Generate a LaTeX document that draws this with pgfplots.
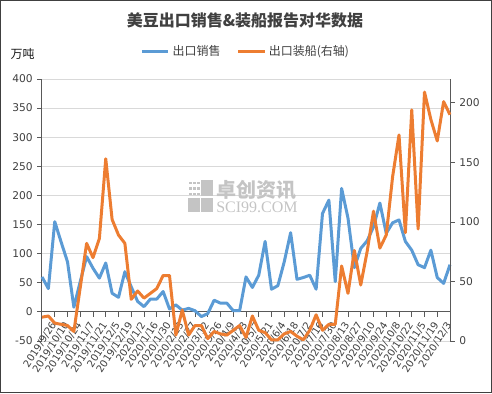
\documentclass[border=0pt]{standalone}
\usepackage{fontspec}
\setmainfont{DejaVu Sans}
\newfontfamily\cjk{Noto Sans CJK SC}
\newfontfamily\wmserif{Liberation Serif}
\usepackage{pgfplots}
\pgfplotsset{compat=1.18}
\usepackage{pgfplotstable}
\definecolor{sblue}{HTML}{5B9BD5}
\definecolor{sorange}{HTML}{ED7D31}
\definecolor{gridc}{HTML}{D9D9D9}
\definecolor{axc}{HTML}{595959}
\definecolor{txt}{HTML}{404040}
\definecolor{wm}{HTML}{C4C4C4}

\pgfplotstableread{
i v
0 60
1 40
2 155
3 120
4 86
5 8
6 52
7 95
8 75
9 58
10 84
11 32
12 25
13 69
14 43
15 18
16 9
17 22
18 22
19 35
20 5
21 12
22 3
23 6
24 2
25 -8
26 -3
27 20
28 15
29 15
30 2
31 2
32 60
33 42
34 63
35 121
36 39
37 45
38 86
39 136
40 56
41 59
42 63
43 39
44 169
45 192
46 52
47 212
48 161
49 76
50 109
51 122
52 146
53 187
54 135
55 153
56 158
57 121
58 106
59 81
60 76
61 106
62 59
63 49
64 81
}\salesdata

\pgfplotstableread{
i v
0 20
1 21
2 15
3 14
4 13
5 8
6 45
7 82
8 70
9 86
10 153
11 102
12 89
13 82
14 35
15 42
16 36
17 40
18 44
19 55
20 55
21 5
22 26
23 5
24 13
25 13
26 2
27 8
28 6
29 5
30 9
31 13
32 3
33 21
34 9
35 7
36 1
37 1
38 6
39 8
40 4
41 1
42 9
43 22
44 9
45 14
46 14
47 63
48 40
49 76
50 47
51 75
52 109
53 78
54 89
55 138
56 173
57 91
58 194
59 94
60 209
61 186
62 168
63 201
64 190
}\shipdata

\begin{document}
\begin{tikzpicture}
\useasboundingbox (-31.5pt,-39pt) rectangle (337.5pt,255.75pt);
\begin{axis}[
  scale only axis, width=306pt, height=196.5pt,
  at={(0,0)}, anchor=south west,
  xmin=0, xmax=64, ymin=-50, ymax=400,
  enlargelimits=false, clip=false,
  axis x line*=middle, axis y line*=left,
  axis line style={axc, line width=0.75pt},
  tick style={axc, line width=0.6pt},
  major tick length=3.5pt, tick align=outside,
  ytick={-50,0,50,...,400},
  ymajorgrids, grid style={gridc, line width=0.6pt},
  xtick={0,2,...,64},
  xticklabels={2019/9/12,2019/9/26,2019/10/10,2019/10/24,2019/11/7,2019/11/21,2019/12/5,2019/12/19,2020/1/2,2020/1/16,2020/1/30,2020/2/13,2020/2/27,2020/3/12,2020/3/26,2020/4/9,2020/4/23,2020/5/7,2020/5/21,2020/6/4,2020/6/18,2020/7/2,2020/7/16,2020/7/30,2020/8/13,2020/8/27,2020/9/10,2020/9/24,2020/10/8,2020/10/22,2020/11/5,2020/11/19,2020/12/3},
  xticklabel style={font=\fontsize{7.5}{8}\selectfont, rotate=57, anchor=east, text=txt, inner sep=1pt},
  xticklabel shift=4pt,
  yticklabel style={font=\fontsize{8}{9}\selectfont, text=txt},
  /pgf/number format/assume math mode=true,
]
\addplot[sblue, line width=2.25pt, line join=round] table[x=i,y=v]{\salesdata};
\end{axis}
\begin{axis}[
  scale only axis, width=306pt, height=196.5pt,
  at={(0,0)}, anchor=south west,
  xmin=0, xmax=64, ymin=0, ymax=220,
  enlargelimits=false, clip=false,
  axis x line=none, axis y line*=right,
  axis line style={axc, line width=0.75pt},
  tick style={axc, line width=0.6pt},
  major tick length=3.5pt, tick align=outside,
  ytick={0,50,...,200},
  yticklabel style={font=\fontsize{8}{9}\selectfont, text=txt},
  /pgf/number format/assume math mode=true,
  legend columns=2,
  legend style={draw=none, fill=none, at={(0.5,1.1043)}, anchor=center,
    font=\cjk\fontsize{9}{10}\selectfont, text=txt,
    /tikz/every even column/.append style={column sep=10pt}},
  legend image code/.code={\draw[#1] (0cm,0cm) -- (0.7cm,0cm);},
]
\addlegendimage{sblue, line width=2.25pt}
\addlegendentry{出口销售}
\addplot[sorange, line width=2.25pt, line join=round] table[x=i,y=v]{\shipdata};
\addlegendentry{出口装船(右轴)}
\end{axis}
% watermark
\fill[wm] (109.5pt,96.75pt) rectangle (118.5pt,107.5pt);
\fill[wm] (119.5pt,96.75pt) rectangle (128.25pt,107.5pt);
\fill[wm] (119.5pt,108.5pt) rectangle (128.25pt,120.75pt);
\foreach \a in {0,1,2} {\foreach \b in {0,1,2} {\fill[wm] (110.5pt+\a*3pt,109.5pt+\b*4pt) rectangle ++(1.8pt,1.8pt);}}
\node[text=wm, font=\cjk\bfseries\fontsize{15}{15}\selectfont, anchor=west, inner sep=0pt] at (130.5pt,113.25pt) {卓创资讯};
\node[text=wm, font=\wmserif\fontsize{12}{12}\selectfont, anchor=west, inner sep=0pt] at (130.5pt,100.5pt) {SCI99.COM};
% texts
\node[font=\cjk\bfseries\fontsize{12}{14}\selectfont, text=txt] at (152.25pt,240.75pt) {美豆出口销售\&装船报告对华数据};
\node[font=\cjk\fontsize{9}{9}\selectfont, text=black!90] at (-14.6pt,215.25pt) {万吨};
\draw[black!75, line width=1.1pt] (-30.95pt,-38.45pt) rectangle (336.95pt,255.2pt);
\end{tikzpicture}
\end{document}
